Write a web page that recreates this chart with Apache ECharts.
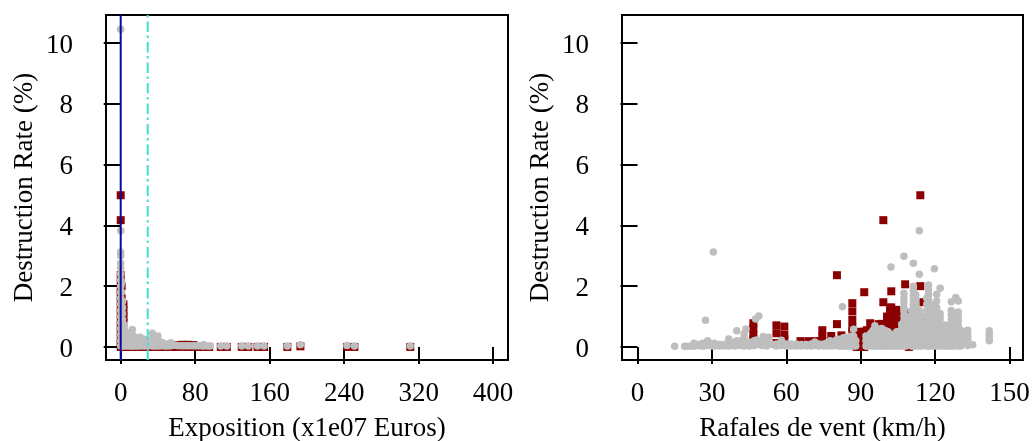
<!DOCTYPE html>
<html><head><meta charset="utf-8">
<script src="https://cdn.jsdelivr.net/npm/echarts@6/dist/echarts.min.js"></script>
<style>html,body{margin:0;padding:0;background:#fff}#c{width:1032px;height:441px}</style>
</head><body><div id="c"></div>
<script>
const yTicks=[0,2,4,6,8,10];
const expoTicks=[0,80,160,240,320,400];
const windTicks=[0,30,60,90,120,150];
const yTitle="Destruction Rate (%)";
const expoTitle="Exposition (x1e07 Euros)";
const windTitle="Rafales de vent (km/h)";
const expoLines=[0,29];

// [x, [y values]]
const expoRedCols=[
[0,[4.99,4.17,2.36,2.1,1.9,1.7,1.5,1.3,1.1,.9,.7,.5,.3,.1,0]],[1,[2.0,1.6,1.2,.8]],[3,[1.4,1.2,1,.8,.5,.2,0]],
[6,[0]],[12,[0]],[18,[0]],[24,[0]],[30,[0]],[36,[0]],[42,[0]],[48,[0]],[54,[0]],[60,[.06,0]],[66,[.07,0]],[72,[.07,0]],[78,[.06,0]],[84,[0]],[89,[0]],[95,[0]],
[107.5,[0]],[114,[0]],[130,[0]],[137,[0]],[147,[0]],[154,[0]],[179,[0]],[193,[.02]],[243,[0]],[251,[0]],[311,[0]]];
const expoGrayCols=[
[0,[10.45,3.82,3.12,3.0,2.75,2.6,2.4,2.2,2.0,1.8,1.6,1.4,1.2,1.0,.8,.6,.4,.2,.03]],[1,[2.1,1.8,1.5,1.2,.9,.6,.3,.03]],
[2,[1.5,1.3,1.1,.9,.7,.5,.3,.15,.03]],[4,[.72,.55,.4,.25,.1,.03]],[7,[.45,.3,.15,.03]],[10,[.4,.25,.1,.03]],[12.5,[.57,.4,.25,.12,.03]],
[15,[.33,.2,.08,.03]],[18,[.3,.18,.08,.03]],[21,[.32,.2,.08,.03]],[25,[.25,.12,.03]],[29,[.22,.1,.03]],[34,[.45,.25,.12,.03]],[37,[.2,.08,.03]],
[40,[.36,.22,.1,.03]],[43,[.15,.04]],[45,[.14,.04]],[48,[.1,.03]],[51,[.1,.03]],[54,[.14,.04]],[57,[.06]],[60,[.05]],[63,[.04]],[66,[.04]],[69,[.04]],[72,[.04]],[75,[.04]],[78,[.04]],[81,[.04]],[84,[.04]],[87,[.04]],[89,[.07,.03]],[93,[.03]],[96,[.03]],
[107.5,[.03]],[114,[.03]],[130,[.03]],[137,[.03]],[147,[.03]],[154,[.03]],[179,[.03]],[193,[.07]],[243,[.05]],[251,[.03]],[311,[.03]]];

const windRedCols=[
[114,[4.99,2.0]],[99.1,[4.17,1.47]],[80.4,[2.36,.75]],[107.9,[2.06]],[102.3,[1.83,1.3,1.1,.9,.75]],[91.4,[1.8]],[86.6,[1.44,1.17,.89,.65,.5,.3,.1]],
[115.2,[1.47,.9,.6]],[93.8,[.78,.5,.3]],[74.5,[.55,.34,.19]],[78.1,[.36,.2]],[82.2,[.38,.2]],[68.9,[.19]],[71.5,[.19]],[65.7,[.19]],
[46.7,[.78,.6,.4,.25]],[56,[.71,.45,.13]],[59.2,[.67,.4,.25]],[73.6,[.19]],[101.8,[1.29,1.1,.9,.7]],[103.6,[1.16,1,.85,.7,.5]],[105.4,[1.1,.95,.8,.65,.45]],
[104.4,[1.22,1.05,.8]],[100.6,[1.0,.8]],[98.4,[.76]],[97.2,[.75]],[106.2,[.85,.65]],[109.4,[1.1,.95,.8,.65,.5,.35,.2,.05,0]],[89.5,[.5,.35,.2,.05,0]],[90.4,[.45,.3,.15,0]],
[91.4,[.5,.35,.2,0]],[88.3,[.45,.3,.15,0]],[92.5,[.55,.4,.2]],[115,[.85,.7,.5]],[116,[.55,.4]]];

const windGrayCols=[
[15,[.02]],[19,[.02]],[20.5,[.02]],[22,[.03]],[22.8,[.12,.03]],[24,[.05]],[25.5,[.1,.03]],[26.5,[.12,.03]],[27.4,[.88,.05]],[28.3,[.2,.05]],[30,[.1,.03]],[30.6,[3.12]],[31,[.12,.03]],
[33,[.08,.03]],[35,[.08,.03]],[36.8,[.26,.1,.03]],[38,[.06]],[39,[.14,.03]],[40,[.53,.2,.05]],[41.5,[.2,.05]],[43,[.43,.3,.15,.03]],[43.7,[.59]],[45,[.15,.03]],[47,[.2,.05]],[47.6,[.92]],
[48,[.23,.08]],[48.9,[1.02]],[50,[.18,.05]],[50.7,[.34,.15]],[52,[.1,.03]],[53,[.32,.1]],[54.5,[.08]],[56,[.1,.03]],[58,[.22,.05]],[60,[.1,.03]],[62,[.1,.03]],[64,[.1,.03]],[66,[.08,.03]],
[68,[.08,.03]],[70,[.1,.03]],[71.5,[.16,.05]],[73,[.1,.03]],[75,[.1,.03]],[76.5,[.14,.03]],[77.6,[.2,.05]],[78.5,[.14,.03]],[80,[.22,.05]],[81,[.25,.1,.03]],[82.6,[1.32]],[82,[.22,.1,.03]],[83,[.3,.15,.03]],[84,[.32,.18,.03]],[85,[.3,.15,.03]],[86,[.35,.15,.03]],
[87.1,[.58,.35,.15,.03]],[88,[.2,.03]],[92.1,[.36,.2,.03]],[92.6,[.15,.03]],[94,[.45,.25,.08,.03]],[95,[.55,.35,.15,.03]],[95.7,[.7,.5,.3,.1,.03]],[96.8,[.55,.35,.15,.03]],[97.8,[.58,.4,.2,.03]],[98.4,[.61,.4,.2,.03]],
[99.4,[.55,.4,.2,.03]],[100.2,[.52,.35,.15,.03]],[101,[.5,.35,.15,.03]],[102.2,[2.63,.42,.2,.03]],[103.1,[.4,.2,.03]],[104.5,[.5,.3,.1,.03]],[105.5,[.4,.2,.03]],[106.5,[.75,.6,.45,.3,.15,.03]],
[107.4,[2.98,1.77,1.62,1.47,1.32,1.17,1.02,.87,.72,.57,.42,.27,.12,.03]],[108.2,[1.0,.85,.7,.55,.4,.25,.1,.03]],[110.5,[1.2,1.05,.9,.75,.6,.45,.3,.15,.03]],[111.2,[2.75,2.0,1.85,1.7,1.55,1.4,1.25,1.1,.95,.8,.65,.5,.35,.2,.03]],
[112.2,[1.72,1.55,1.4,1.25,1.1,.95,.8,.65,.5,.35,.2,.03]],[113.6,[3.82,2.39,1.2,1.05,.9,.75,.6,.45,.3,.15,.03]],[114.6,[1.0,.8,.6,.4,.2,.03]],[116.6,[1.6,1.4,1.2,1,.8,.6,.4,.2,.03]],
[117.3,[2.04,1.88,1.72,1.56,1.4,1.25,1.1,.95,.8,.65,.5,.35,.2,.03]],[118.3,[1.4,1.25,1.1,.95,.8,.65,.5,.35,.2,.03]],[119.7,[2.57,1.25,1.1,.95,.8,.65,.5,.35,.2,.03]],[120.6,[1.73,1.51,1.3,1.15,1,.85,.7,.55,.4,.25,.1,.03]],
[122,[1.93,1.1,.95,.8,.65,.5,.35,.2,.03]],[123.3,[.7,.5,.35,.2,.03]],[124.2,[.72,.55,.4,.25,.1,.03]],[125.3,[.55,.4,.25,.1,.03]],[126.5,[1.49,1.2,1.05,.9,.75,.6,.45,.3,.15,.03]],[127.6,[.55,.4,.25,.1,.03]],
[128.3,[1.63,.55,.4,.25,.1]],[129.3,[1.51,1.15,1,.85,.7,.55,.4,.25,.1,.03]],[130.3,[.55,.4,.25,.1,.03]],[133.1,[.55,.45,.35,.25,.15,.05]],[135.1,[.07]],[141.8,[.53,.42,.3,.2]]];

const expand=c=>c.flatMap(([x,ys])=>ys.map(y=>[x,y]));
const yMin=-0.43,yMax=10.92;
const grids=[{left:106,top:15,width:402,height:345,show:true,borderColor:'#000',borderWidth:2,backgroundColor:'#fff',outerBoundsMode:'none'},
             {left:622,top:15,width:401,height:345,show:true,borderColor:'#000',borderWidth:2,backgroundColor:'#fff',outerBoundsMode:'none'}];
const font={color:'#000',fontFamily:'Liberation Serif',fontSize:27};
function xa(i,ticks,min,max,name){return {type:'value',gridIndex:i,min,max,name,nameLocation:'middle',nameGap:55,nameTextStyle:font,position:'bottom',
  axisLine:{show:false},splitLine:{show:false},
  axisTick:{show:true,length:17,customValues:ticks,lineStyle:{color:'#000',width:2}},
  axisLabel:{...font,margin:20,customValues:ticks,hideOverlap:false,showMinLabel:true,showMaxLabel:true}};}
function ya(i){return {type:'value',gridIndex:i,min:yMin,max:yMax,name:yTitle,nameLocation:'middle',nameGap:68,nameTextStyle:font,
  axisLine:{show:false},splitLine:{show:false},
  axisTick:{show:true,length:17,customValues:yTicks,lineStyle:{color:'#000',width:2}},
  axisLabel:{...font,margin:33,verticalAlign:'top',lineHeight:5,customValues:yTicks,showMinLabel:true,showMaxLabel:true}};}
function pts(i,type,data,color){return {type:'scatter',xAxisIndex:i,yAxisIndex:i,symbol:type,symbolSize:type==='rect'?8:7.5,data,itemStyle:{color,opacity:1},silent:true,animation:false};}
const chart=echarts.init(document.getElementById('c'),null,{renderer:'canvas'});
chart.setOption({animation:false,grid:grids,
 xAxis:[xa(0,expoTicks,-15.8,416,expoTitle),xa(1,windTicks,-6.25,155.4,windTitle)],
 yAxis:[ya(0),ya(1)],
 series:[
  pts(0,'rect',expand(expoRedCols),'#8b0000'),
  pts(0,'circle',expand(expoGrayCols),'#bebebe'),
  {type:'line',xAxisIndex:0,yAxisIndex:0,showSymbol:false,silent:true,data:[[expoLines[0],yMin],[expoLines[0],yMax]],lineStyle:{color:'#0a0a9c',width:2}},
  {type:'line',xAxisIndex:0,yAxisIndex:0,showSymbol:false,silent:true,data:[[expoLines[1],yMin],[expoLines[1],yMax]],lineStyle:{color:'#40e0d0',width:2,type:[10.5,4,2.5,3.5]}},
  pts(1,'rect',expand(windRedCols),'#8b0000'),
  pts(1,'circle',expand(windGrayCols),'#bebebe')
 ]});
</script></body></html>
